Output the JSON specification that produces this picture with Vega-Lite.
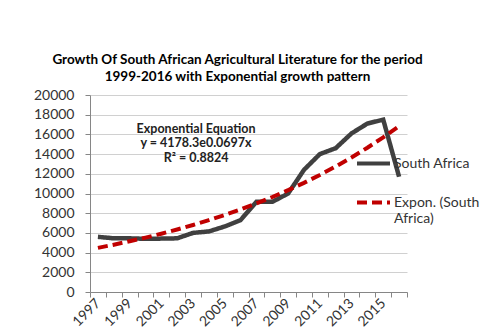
{
  "$schema": "https://vega.github.io/schema/vega-lite/v6.json",
  "width": 317,
  "height": 197,
  "autosize": {"type": "none"},
  "padding": {"left": 90, "top": 95, "right": 86, "bottom": 41},
  "background": "white",
  "title": {
    "text": ["Growth Of South African Agricultural Literature  for the period", "1999-2016 with Exponential growth pattern"],
    "font": "Lato",
    "fontSize": 13.5,
    "fontWeight": "bold",
    "color": "#000000",
    "anchor": "middle",
    "frame": "group",
    "dx": -11,
    "offset": 5,
    "lineHeight": 17
  },
  "config": {
    "view": {"stroke": null},
    "font": "Lato"
  },
  "data": {
    "values": [
      {"year": "1997", "series": "South Africa", "value": 5600},
      {"year": "1998", "series": "South Africa", "value": 5450},
      {"year": "1999", "series": "South Africa", "value": 5450},
      {"year": "2000", "series": "South Africa", "value": 5400},
      {"year": "2001", "series": "South Africa", "value": 5420},
      {"year": "2002", "series": "South Africa", "value": 5450},
      {"year": "2003", "series": "South Africa", "value": 6000},
      {"year": "2004", "series": "South Africa", "value": 6150},
      {"year": "2005", "series": "South Africa", "value": 6650},
      {"year": "2006", "series": "South Africa", "value": 7300},
      {"year": "2007", "series": "South Africa", "value": 9150},
      {"year": "2008", "series": "South Africa", "value": 9150},
      {"year": "2009", "series": "South Africa", "value": 10000},
      {"year": "2010", "series": "South Africa", "value": 12400},
      {"year": "2011", "series": "South Africa", "value": 14000},
      {"year": "2012", "series": "South Africa", "value": 14600},
      {"year": "2013", "series": "South Africa", "value": 16100},
      {"year": "2014", "series": "South Africa", "value": 17100},
      {"year": "2015", "series": "South Africa", "value": 17500},
      {"year": "2016", "series": "South Africa", "value": 11700},
      {"year": "1997", "series": "Expon. (South Africa)", "value": 4480},
      {"year": "1998", "series": "Expon. (South Africa)", "value": 4803},
      {"year": "1999", "series": "Expon. (South Africa)", "value": 5150},
      {"year": "2000", "series": "Expon. (South Africa)", "value": 5522},
      {"year": "2001", "series": "Expon. (South Africa)", "value": 5920},
      {"year": "2002", "series": "Expon. (South Africa)", "value": 6347},
      {"year": "2003", "series": "Expon. (South Africa)", "value": 6806},
      {"year": "2004", "series": "Expon. (South Africa)", "value": 7297},
      {"year": "2005", "series": "Expon. (South Africa)", "value": 7823},
      {"year": "2006", "series": "Expon. (South Africa)", "value": 8388},
      {"year": "2007", "series": "Expon. (South Africa)", "value": 8993},
      {"year": "2008", "series": "Expon. (South Africa)", "value": 9642},
      {"year": "2009", "series": "Expon. (South Africa)", "value": 10338},
      {"year": "2010", "series": "Expon. (South Africa)", "value": 11084},
      {"year": "2011", "series": "Expon. (South Africa)", "value": 11884},
      {"year": "2012", "series": "Expon. (South Africa)", "value": 12742},
      {"year": "2013", "series": "Expon. (South Africa)", "value": 13661},
      {"year": "2014", "series": "Expon. (South Africa)", "value": 14647},
      {"year": "2015", "series": "Expon. (South Africa)", "value": 15704},
      {"year": "2016", "series": "Expon. (South Africa)", "value": 16837}
    ]
  },
  "encoding": {
    "x": {
      "field": "year",
      "type": "ordinal",
      "scale": {"type": "band", "paddingInner": 0, "paddingOuter": 0},
      "axis": {
        "title": null,
        "tickBand": "extent",
        "grid": false,
        "domainColor": "#868686",
        "tickColor": "#868686",
        "tickSize": 5,
        "labelAngle": -45,
        "labelAlign": "right",
        "labelBaseline": "middle",
        "labelPadding": 4,
        "labelFont": "Lato",
        "labelFontSize": 14,
        "labelColor": "#333333",
        "labelExpr": "toNumber(datum.value) % 2 == 1 ? datum.label : ''"
      }
    },
    "y": {
      "field": "value",
      "type": "quantitative",
      "scale": {"domain": [0, 20000], "nice": false},
      "axis": {
        "title": null,
        "format": "d",
        "values": [0, 2000, 4000, 6000, 8000, 10000, 12000, 14000, 16000, 18000, 20000],
        "grid": true,
        "gridColor": "#d0d0d0",
        "domainColor": "#868686",
        "tickColor": "#868686",
        "tickSize": 5,
        "labelPadding": 11,
        "labelFont": "Lato",
        "labelFontSize": 14,
        "labelColor": "#333333"
      }
    }
  },
  "layer": [
    {
      "transform": [{"filter": "datum.series == 'South Africa'"}],
      "mark": {"type": "line", "strokeWidth": 4.5},
      "encoding": {
        "color": {
          "field": "series",
          "type": "nominal",
          "scale": {"domain": ["South Africa", "Expon. (South Africa)"], "range": ["#404040", "#c00000"]},
          "legend": {
            "title": null,
            "orient": "none",
            "legendX": 265,
            "legendY": 50,
            "padding": 0,
            "symbolType": "stroke",
            "symbolSize": 1089,
            "symbolStrokeWidth": 4,
            "labelFont": "Lato",
            "labelFontSize": 14,
            "labelColor": "#333333",
            "labelOffset": 2,
            "labelLimit": 200,
            "rowPadding": 12,
            "labelExpr": "datum.label == 'Expon. (South Africa)' ? ['Expon. (South', 'Africa)'] : datum.label"
          }
        },
        "strokeDash": {
          "field": "series",
          "type": "nominal",
          "scale": {"domain": ["South Africa", "Expon. (South Africa)"], "range": [[1, 0], [10, 5]]},
          "legend": {
            "title": null,
            "orient": "none",
            "legendX": 265,
            "legendY": 50,
            "padding": 0,
            "symbolType": "stroke",
            "symbolSize": 1089,
            "symbolStrokeWidth": 4,
            "labelFont": "Lato",
            "labelFontSize": 14,
            "labelColor": "#333333",
            "labelOffset": 2,
            "labelLimit": 200,
            "rowPadding": 12,
            "labelExpr": "datum.label == 'Expon. (South Africa)' ? ['Expon. (South', 'Africa)'] : datum.label"
          }
        }
      }
    },
    {
      "transform": [{"filter": "datum.series != 'South Africa'"}],
      "mark": {"type": "line", "strokeWidth": 4},
      "encoding": {
        "color": {"field": "series", "type": "nominal"},
        "strokeDash": {"field": "series", "type": "nominal"}
      }
    },
    {
      "transform": [{"filter": "datum.series == 'South Africa' && datum.year == '2003'"}],
      "mark": {"type": "text", "font": "Lato", "fontWeight": "bold", "fontSize": 12.5, "lineHeight": 14.5, "align": "center", "baseline": "middle", "fill": "#222222", "dx": 3},
      "encoding": {
        "x": {"datum": "2003"},
        "y": {"datum": 16550},
        "text": {"value": ["Exponential Equation", "y = 4178.3e0.0697x", "R² = 0.8824"]}
      }
    }
  ]
}
